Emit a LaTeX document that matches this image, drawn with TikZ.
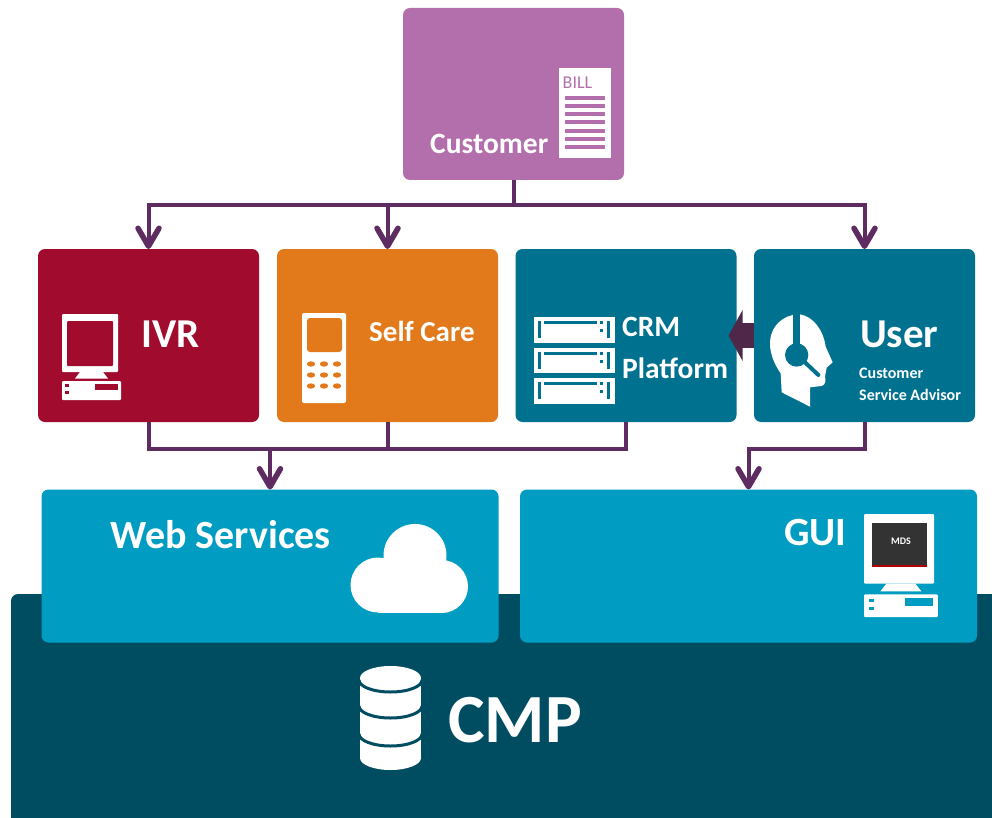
\documentclass[tikz,border=0pt]{standalone}
\usepackage{fontspec}
\setmainfont{Carlito}
\usetikzlibrary{arrows.meta,calc}
\definecolor{custc}{HTML}{B36FAC}
\definecolor{ivrc}{HTML}{A10B2E}
\definecolor{selfc}{HTML}{E2791B}
\definecolor{crmc}{HTML}{00728F}
\definecolor{webc}{HTML}{009CC2}
\definecolor{cmpc}{HTML}{004D62}
\definecolor{connc}{HTML}{5F2C62}
\definecolor{fatc}{HTML}{4F2748}
\tikzset{
  panel/.style={anchor=north west,inner sep=0pt,outer sep=0pt,rounded corners=7pt,minimum width=#1},
  conn/.style={draw=connc,line width=4pt,line join=miter},
  tip/.style={conn,-{Straight Barb[length=18pt,width=21pt,line width=5.5pt,round]}},
  lab/.style={anchor=west,inner sep=0pt,text=white,font=\fontsize{#1}{#1}\selectfont\bfseries},
}
% monitor icon: unit size = IVR icon, origin at monitor top-left
\newcommand{\pcbody}[4]{%
  \begin{scope}[shift={(#1,#2)},xscale=#3,yscale=#4]
    \fill[white,rounded corners=1pt] (0,0) rectangle (56,58);
    \fill[white] (18,58) -- (41,58) -- (46,64.5) -- (13,64.5) -- cycle;
    \fill[white,rounded corners=1pt] (0,67) rectangle (59,86);
  \end{scope}}
\begin{document}
\begin{tikzpicture}[x=1pt,y=-1pt]
\useasboundingbox (0,0) rectangle (992,818);
\begin{scope}
\clip (0,0) rectangle (992,818);
\node[panel=1020pt,minimum height=260pt,fill=cmpc] (cmp) at (11,594) {};
\end{scope}
% boxes
\node[panel=221pt,minimum height=172pt,fill=custc] (cust) at (403,8) {};
\node[panel=221pt,minimum height=173pt,fill=ivrc] (ivr) at (38,249) {};
\node[panel=221pt,minimum height=173pt,fill=selfc] (self) at (277,249) {};
\node[panel=221pt,minimum height=173pt,fill=crmc] (crm) at (515.5,249) {};
\node[panel=221pt,minimum height=173pt,fill=crmc] (user) at (754,249) {};
\node[panel=457pt,minimum height=153pt,fill=webc] (web) at (41.5,489.5) {};
\node[panel=457pt,minimum height=153pt,fill=webc] (gui) at (520,489.5) {};
% connectors
\coordinate (busA) at (cust.south |- 0,205);
\coordinate (busB) at (web.north |- 0,449);
\coordinate (busC) at (gui.north |- 0,449);
\draw[conn] (cust.south) -- (busA);
\draw[tip] (busA) -| (ivr.north);
\draw[tip] (self.north |- busA) -- (self.north);
\draw[tip] (busA) -| (user.north);
\draw[conn] (ivr.south) |- (busB);
\draw[conn] (crm.south) |- (busB);
\draw[conn] (self.south) -- (self.south |- busB);
\draw[tip] (busB) -- (web.north);
\draw[tip] (user.south) |- (busC) -- (gui.north);
\draw[draw=fatc,line width=25pt,-{Triangle[length=14pt,width=50pt]},shorten >=-8pt] (user.west) -- (crm.east);
% labels
\node[lab=29.5] (tcust) at (430,144) {Customer};
\node[lab=41] (tivr) at (141,334) {IVR};
\node[lab=29] (tself) at (369,331) {Self Care};
\node[lab=29.5] (tcrm) at (622,327) {CRM};
\node[lab=29.5] (tplat) at (622,368) {Platform};
\node[lab=41] (tuser) at (860,334) {User};
\node[lab=16] (tcs) at (859,373) {Customer};
\node[lab=16] (tsa) at (859,395) {Service Advisor};
\node[lab=40] (tweb) at (110,535) {Web Services};
\node[lab=40] (tgui) at (784,533) {GUI};
\node[lab=69] (tcmp) at (448,720) {CMP};
% bill icon
\fill[white] (559,68) rectangle (611,158);
\node[anchor=west,inner sep=0pt,text=custc,font=\fontsize{18}{18}\selectfont] (tbill) at (562.5,83) {BILL};
\foreach \yy in {98,106,114,122,131,139,147}
  \fill[custc] (565,\yy-1.8) rectangle (605,\yy+1.8);
% IVR computer
\pcbody{62}{314}{1}{1}
\fill[ivrc,rounded corners=1pt] (67,321) rectangle (113,366);
\fill[ivrc] (95,384) rectangle (118,390);
\fill[ivrc] (65,384) rectangle (69,387);
\fill[ivrc] (65,391) rectangle (69,394);
% phone
\fill[white,rounded corners=2pt] (302,313) rectangle (346,403);
\fill[selfc,rounded corners=3pt] (307,318) rectangle (342,352);
\foreach \px in {311,324,337}
  \foreach \py in {364,375,386}
    \fill[selfc] (\px,\py) ellipse [x radius=4.2,y radius=2.7];
% servers
\foreach \sy in {317,347.5,378}{
  \fill[white] (534,\sy) rectangle (614.5,\sy+25.5);
  \fill[crmc] (538,\sy+4) rectangle (541,\sy+21);
  \fill[crmc] (544,\sy+4) rectangle (597,\sy+7);
  \fill[crmc] (600,\sy+4) rectangle (603,\sy+7);
  \fill[crmc] (600,\sy+12) rectangle (603,\sy+15);
  \fill[crmc] (607,\sy+4) rectangle (610,\sy+21);
}
% head with headset
\begin{scope}[shift={(760,305)},scale=0.3333]
  \fill[white] (98,30) .. controls (55,40) and (30,75) .. (30,115)
     .. controls (30,150) and (45,180) .. (62,205) -- (65,262) -- (150,305) -- (150,247)
     -- (185,243) .. controls (197,240) and (198,225) .. (195,215)
     -- (200,188) -- (218,172) -- (197,125)
     .. controls (190,75) and (160,35) .. (120,28) -- cycle;
  \fill[crmc] (98,20) rectangle (120,120);
  \fill[crmc] (110,150) circle (35);
  \draw[crmc,line width=4pt,line cap=round] (135,172) -- (175,210);
\end{scope}
% cloud
\fill[white] (378,585) circle (27.5) (415,555.5) circle (31.5) (441.5,586.5) circle (26.5);
\fill[white] (378,570) rectangle (441.5,613);
% GUI computer
\pcbody{864}{514}{1.25}{1.2}
\fill[black!80] (872,523) rectangle (927,565);
\fill[red!70!black] (872,565) rectangle (927,567);
\node[inner sep=0pt,text=white,font=\fontsize{10}{10}\selectfont\bfseries] (tmds) at (901,541) {MDS};
\fill[webc] (905,598) rectangle (933,606);
\fill[webc] (869,599) rectangle (874,602);
\fill[webc] (869,607) rectangle (874,610);
% database
\fill[white] (390.5,678) ellipse [x radius=30.5,y radius=12];
\fill[white] (360,678) rectangle (421,758);
\fill[white] (390.5,758) ellipse [x radius=30.5,y radius=12];
\foreach \dy in {680,706,734}
  \draw[cmpc,line width=3pt] (359,\dy) arc[start angle=180,end angle=0,x radius=31.5,y radius=12];
\end{tikzpicture}
\end{document}
